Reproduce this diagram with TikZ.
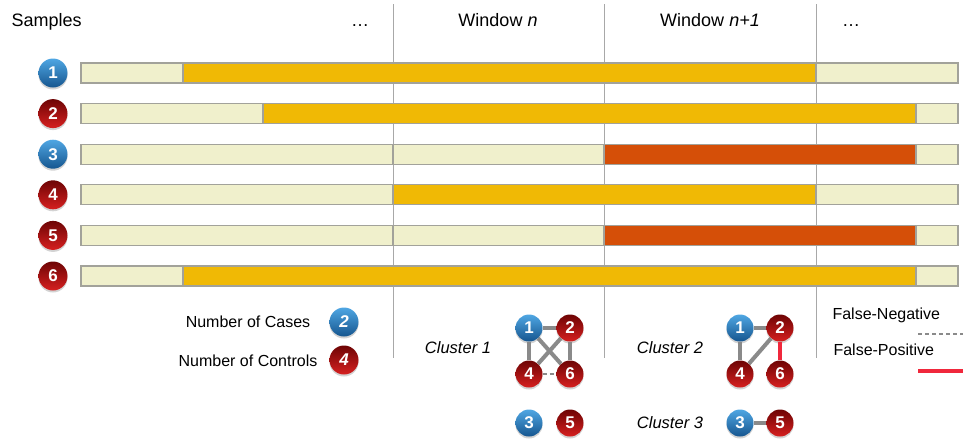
\documentclass[tikz,border=0pt]{standalone}
\usepackage{fontspec}
\setmainfont{Liberation Sans}
\usetikzlibrary{shadows}

\definecolor{cream}{HTML}{F0F0CC}
\definecolor{gold}{HTML}{F0B905}
\definecolor{rust}{HTML}{D54F08}
\definecolor{segline}{HTML}{A2A29A}
\definecolor{gridline}{HTML}{A8A8A8}
\definecolor{edgegray}{HTML}{8A8A8A}
\definecolor{fpred}{HTML}{F0283C}
\definecolor{caseTop}{HTML}{4FA6E3}
\definecolor{caseBot}{HTML}{16568F}
\definecolor{ctrlTop}{HTML}{6E0505}
\definecolor{ctrlBot}{HTML}{D62020}

\tikzset{
  gridrule/.style={draw=gridline, line width=1pt},
  segbox/.style={draw=segline, line width=1.1pt},
  ballbase/.style={circle, inner sep=0pt, text=white,
    drop shadow={shadow xshift=0pt, shadow yshift=-2pt, opacity=0.35}},
  bigball/.style={ballbase, minimum size=29pt, font=\bfseries\fontsize{17}{17}\selectfont},
  smallball/.style={ballbase, minimum size=27pt, font=\bfseries\fontsize{17}{17}\selectfont},
  caseball/.style={top color=caseTop, bottom color=caseBot},
  ctrlball/.style={top color=ctrlTop, bottom color=ctrlBot},
  head/.style={font=\fontsize{18}{18}\selectfont},
  label/.style={font=\fontsize{16}{16}\selectfont},
  clabel/.style={font=\itshape\fontsize{16.5}{16.5}\selectfont},
  link/.style={draw=edgegray, line width=4pt},
  fnlink/.style={draw=edgegray, line width=2pt, dash pattern=on 4pt off 3pt},
  fplink/.style={draw=fpred, line width=3.5pt},
}

% one coloured piece of a sample bar: left x, right x, centre y, fill
\newcommand\barpiece[4]{\draw[segbox, fill=#4] (#1,#3-10) rectangle (#2,#3+10);}

\begin{document}
\begin{tikzpicture}[x=1pt, y=-1pt]
\useasboundingbox (0,0) rectangle (963,445);

% window boundaries
\draw[gridrule] (393,4) -- (393,358);
\draw[gridrule] (604,4) -- (604,358);
\draw[gridrule] (816,4) -- (816,358);

% header
\node[head, anchor=west] (samples) at (8,22) {Samples};
\node[head] (dotsL) at (360,26) {…};
\node[head] (winN) at (498,20) {Window \textit{n}};
\node[head] (winN1) at (710,20) {Window \textit{n+1}};
\node[head] (dotsR) at (851,26) {…};

% sample bars
\barpiece{81}{183}{73}{cream}
\barpiece{183}{816}{73}{gold}
\barpiece{816}{958}{73}{cream}

\barpiece{81}{263}{113.6}{cream}
\barpiece{263}{916}{113.6}{gold}
\barpiece{916}{958}{113.6}{cream}

\barpiece{81}{393}{154.2}{cream}
\barpiece{393}{604}{154.2}{cream}
\barpiece{604}{916}{154.2}{rust}
\barpiece{916}{958}{154.2}{cream}

\barpiece{81}{393}{194.8}{cream}
\barpiece{393}{816}{194.8}{gold}
\barpiece{816}{958}{194.8}{cream}

\barpiece{81}{393}{235.4}{cream}
\barpiece{393}{604}{235.4}{cream}
\barpiece{604}{916}{235.4}{rust}
\barpiece{916}{958}{235.4}{cream}

\barpiece{81}{183}{276}{cream}
\barpiece{183}{916}{276}{gold}
\barpiece{916}{958}{276}{cream}

% sample markers
\node[bigball, caseball] (s1) at (53,73) {1};
\node[bigball, ctrlball] (s2) at (53,113.6) {2};
\node[bigball, caseball] (s3) at (53,154.2) {3};
\node[bigball, ctrlball] (s4) at (53,194.8) {4};
\node[bigball, ctrlball] (s5) at (53,235.4) {5};
\node[bigball, ctrlball] (s6) at (53,276) {6};

% counts legend
\node[label] (ncases) at (248,322) {Number of Cases};
\node[label] (nctrls) at (248,361) {Number of Controls};
\node[bigball, caseball, font=\bfseries\itshape\fontsize{17}{17}\selectfont] (lc) at (344,322) {2};
\node[bigball, ctrlball, font=\bfseries\itshape\fontsize{17}{17}\selectfont] (lk) at (344,360) {4};

% cluster labels
\node[clabel] (cl1) at (458,348) {Cluster 1};
\node[clabel] (cl2) at (670,348) {Cluster 2};
\node[clabel] (cl3) at (670,423) {Cluster 3};

% clusters in window n
\node[smallball, caseball] (a1) at (529,328) {1};
\node[smallball, ctrlball] (a2) at (570,328) {2};
\node[smallball, ctrlball] (a4) at (529,374) {4};
\node[smallball, ctrlball] (a6) at (570,374) {6};
\node[smallball, caseball] (a3) at (529,423) {3};
\node[smallball, ctrlball] (a5) at (570,423) {5};
\draw[link] (a1) -- (a2);
\draw[link] (a1) -- (a4);
\draw[link] (a2) -- (a6);
\draw[link] (a1) -- (a6);
\draw[link] (a2) -- (a4);
\draw[fnlink] (a4) -- (a6);

% clusters in window n+1
\node[smallball, caseball] (b1) at (740,328) {1};
\node[smallball, ctrlball] (b2) at (780,328) {2};
\node[smallball, ctrlball] (b4) at (740,374) {4};
\node[smallball, ctrlball] (b6) at (780,374) {6};
\node[smallball, caseball] (b3) at (740,423) {3};
\node[smallball, ctrlball] (b5) at (780,423) {5};
\draw[link] (b1) -- (b2);
\draw[link] (b1) -- (b4);
\draw[link] (b4) -- (b2);
\draw[fplink] (b2) -- (b6);
\draw[link] (b3) -- (b5);

% edge legend
\node[label, anchor=west] (fn) at (829,315) {False-Negative};
\node[label, anchor=west] (fp) at (830,350) {False-Positive};
\coordinate (fnA) at (918,334);
\coordinate (fnB) at (963,334);
\coordinate (fpA) at (918,371);
\coordinate (fpB) at (963,371);
\draw[fnlink] (fnA) -- (fnB);
\draw[fplink] (fpA) -- (fpB);
\end{tikzpicture}
\end{document}
